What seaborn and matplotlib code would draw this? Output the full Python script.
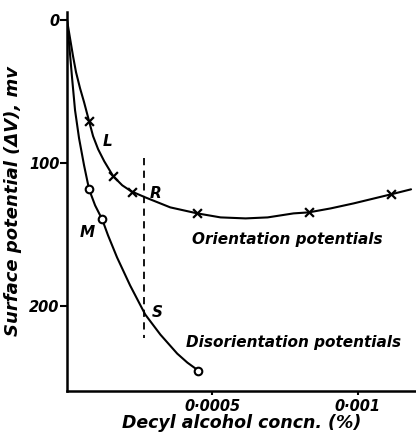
import matplotlib
matplotlib.use("Agg")
import matplotlib.pyplot as plt
import seaborn as sns
import pandas as pd

# Smooth hand-drawn curves
orient_curve_x = [0, 0.0000103, 0.0000207, 0.0000310, 0.0000448, 0.0000586, 0.0000759, 0.0000897,
                  0.000107, 0.000128, 0.000159, 0.000190, 0.000221, 0.000269, 0.000355, 0.000448,
                  0.000528, 0.000614, 0.000690, 0.000779, 0.000831, 0.000907, 0.000986, 0.001114,
                  0.001183]
orient_curve_y = [0, 12.6, 25.2, 36.4, 47.6, 57.3, 70.6, 81.1, 90.2, 98.6, 109.1, 115.4, 119.6,
                  123.8, 130.8, 135.0, 137.8, 138.5, 137.8, 135.0, 134.3, 131.5, 128.0, 121.7, 118.2]

disor_curve_x = [0, 0.0000086, 0.0000172, 0.0000276, 0.0000414, 0.0000586, 0.0000759, 0.0000966,
                 0.000121, 0.000141, 0.000172, 0.000217, 0.000269, 0.000321, 0.000379, 0.000414,
                 0.000452]
disor_curve_y = [0, 19.6, 39.9, 62.9, 82.5, 101.4, 118.2, 129.4, 139.2, 150.3, 165.7, 185.3,
                 205.6, 219.6, 232.9, 239.2, 244.8]

# Measured points
orient_pts_x = [0.0000759, 0.000159, 0.000224, 0.000448, 0.000831, 0.001114]
orient_pts_y = [70.6, 109.1, 120.0, 135.0, 134.0, 121.7]
disor_pts_x = [0.0000759, 0.000121, 0.000452]
disor_pts_y = [118.2, 139.2, 244.8]

dash_x = 0.000266
dash_y = [96, 222]

xticks = [0.0005, 0.001]
xticklabels = ["0·0005", "0·001"]
yticks = [0, 100, 200]
yticklabels = ["0", "100", "200"]

sns.set_theme(style="ticks")
plt.rcParams['font.family'] = ['DejaVu Sans']

fig = plt.figure(figsize=(4.16, 4.36), dpi=100)
ax = fig.add_axes([67/416, 45/436, 349/416, 379/436])

oc = pd.DataFrame({"x": orient_curve_x, "y": orient_curve_y})
dc = pd.DataFrame({"x": disor_curve_x, "y": disor_curve_y})
sns.lineplot(data=oc, x="x", y="y", sort=False, color="black", lw=1.5, ax=ax)
sns.lineplot(data=dc, x="x", y="y", sort=False, color="black", lw=1.5, ax=ax)

op = pd.DataFrame({"x": orient_pts_x, "y": orient_pts_y})
dp = pd.DataFrame({"x": disor_pts_x, "y": disor_pts_y})
sns.scatterplot(data=op, x="x", y="y", marker="x", s=40, color="black", linewidth=1.6, ax=ax, zorder=5)
sns.scatterplot(data=dp, x="x", y="y", marker="o", s=30, facecolor="white", edgecolor="black",
                linewidth=1.5, ax=ax, zorder=5)

ax.plot([dash_x, dash_x], dash_y, color="black", lw=1.3, ls=(0, (4, 3)))

ax.set_xlim(0, 0.0012)
ax.set_ylim(259, -5.6)
ax.set_xticks(xticks)
ax.set_xticklabels(xticklabels)
ax.set_yticks(yticks)
ax.set_yticklabels(yticklabels)

fkw = dict(style="italic", weight="semibold", color="black")
for lab in ax.get_xticklabels() + ax.get_yticklabels():
    lab.set_fontstyle("italic")
    lab.set_fontweight("semibold")
    lab.set_fontsize(10.5)
    lab.set_color("black")
ax.tick_params(axis="y", direction="out", length=5, width=1.5, colors="black", pad=0.5)
ax.tick_params(axis="x", direction="out", length=3, width=1.5, colors="black", pad=3)

for s in ["top", "right"]:
    ax.spines[s].set_visible(False)
for s in ["left", "bottom"]:
    ax.spines[s].set_linewidth(1.8)
    ax.spines[s].set_color("black")

ax.set_xlabel("Decyl alcohol concn. (%)", fontsize=12.5, labelpad=0, **fkw)
ax.set_ylabel("Surface potential (ΔV), mv", fontsize=13, labelpad=5, **fkw)

tkw = dict(fontsize=11, **fkw)
ax.text(0.000138, 85, "L", ha="center", va="center", **tkw)
ax.text(0.000305, 121, "R", ha="center", va="center", **tkw)
ax.text(0.0000690, 148, "M", ha="center", va="center", **tkw)
ax.text(0.000310, 204, "S", ha="center", va="center", **tkw)
ax.text(0.000431, 153, "Orientation potentials", ha="left", va="center", **tkw)
ax.text(0.000410, 225, "Disorientation potentials", ha="left", va="center", **tkw)

fig.savefig("out.png", dpi=100)
